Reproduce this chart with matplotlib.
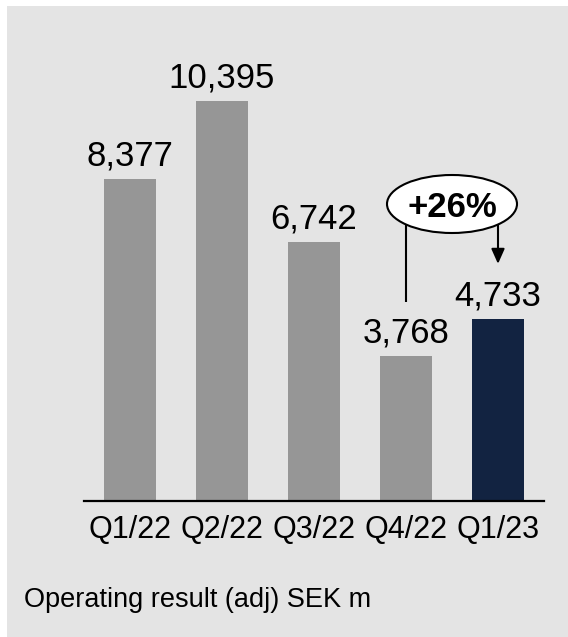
import matplotlib
matplotlib.use("Agg")
import matplotlib.pyplot as plt
from matplotlib.patches import Rectangle, Ellipse

quarters = ["Q1/22", "Q2/22", "Q3/22", "Q4/22", "Q1/23"]
operating_result = [8377, 10395, 6742, 3768, 4733]
bar_colors = ["#969696", "#969696", "#969696", "#969696", "#122341"]
growth_label = "+26%"
caption = "Operating result (adj) SEK m"

plt.rcParams["font.family"] = ["Liberation Sans", "DejaVu Sans"]

W, H = 568, 637
fig = plt.figure(figsize=(W / 100, H / 100), dpi=100)
fig.patch.set_facecolor("white")

# grey panel behind everything
fig.add_artist(Rectangle((7 / W, 0), 1 - 7 / W, (H - 6) / H,
                         transform=fig.transFigure, facecolor="#e4e4e4",
                         edgecolor="none", zorder=0))

# axes placed in pixel terms: baseline at y=501, bars 92 px apart
ax_left, ax_right = 84, 544
ax_bottom, ax_top = 501, 60
ax = fig.add_axes([ax_left / W, (H - ax_bottom) / H,
                   (ax_right - ax_left) / W, (ax_bottom - ax_top) / H])
ax.set_facecolor("none")

px_per_unit = 400 / max(operating_result)
ax.set_ylim(0, (ax_bottom - ax_top) / px_per_unit)
ax.set_xlim(-0.5, len(quarters) - 0.5)

x = list(range(len(quarters)))
ax.bar(x, operating_result, width=0.56, color=bar_colors, zorder=2)

for xi, v in zip(x, operating_result):
    ax.annotate(f"{v:,}", (xi, v), xytext=(0, 9.4), textcoords="offset points",
                ha="center", va="baseline", fontsize=25, color="black")

ax.set_xticks(x)
ax.set_xticklabels(quarters, fontsize=22)
ax.tick_params(axis="x", length=0, pad=10)
ax.set_yticks([])
for s in ["left", "right", "top"]:
    ax.spines[s].set_visible(False)
ax.spines["bottom"].set_linewidth(1.6)
ax.spines["bottom"].set_color("black")

# growth callout between Q4/22 and Q1/23
u = 1 / px_per_unit
ell_y = (ax_bottom - 204) * u
ax.add_patch(Ellipse((3.5, ell_y), width=130 / 92, height=58 * u,
                     facecolor="white", edgecolor="black", linewidth=1.5,
                     zorder=5))
ax.text(3.5, ell_y, growth_label, ha="center", va="center_baseline",
        fontsize=25, fontweight="bold", zorder=6)
ax.plot([3, 3], [ell_y, operating_result[3] + 54 * u], color="black",
        linewidth=1.5, zorder=4, solid_capstyle="butt")
ax.annotate("", xy=(4, operating_result[4] + 55 * u), xytext=(4, ell_y),
            arrowprops=dict(arrowstyle="-|>,head_length=0.9,head_width=0.4",
                            color="black", linewidth=1.5, shrinkA=0, shrinkB=0),
            zorder=4)

fig.text(24 / W, (H - 607) / H, caption, fontsize=19.5, ha="left",
         va="baseline")

fig.savefig("out.png", dpi=100)
